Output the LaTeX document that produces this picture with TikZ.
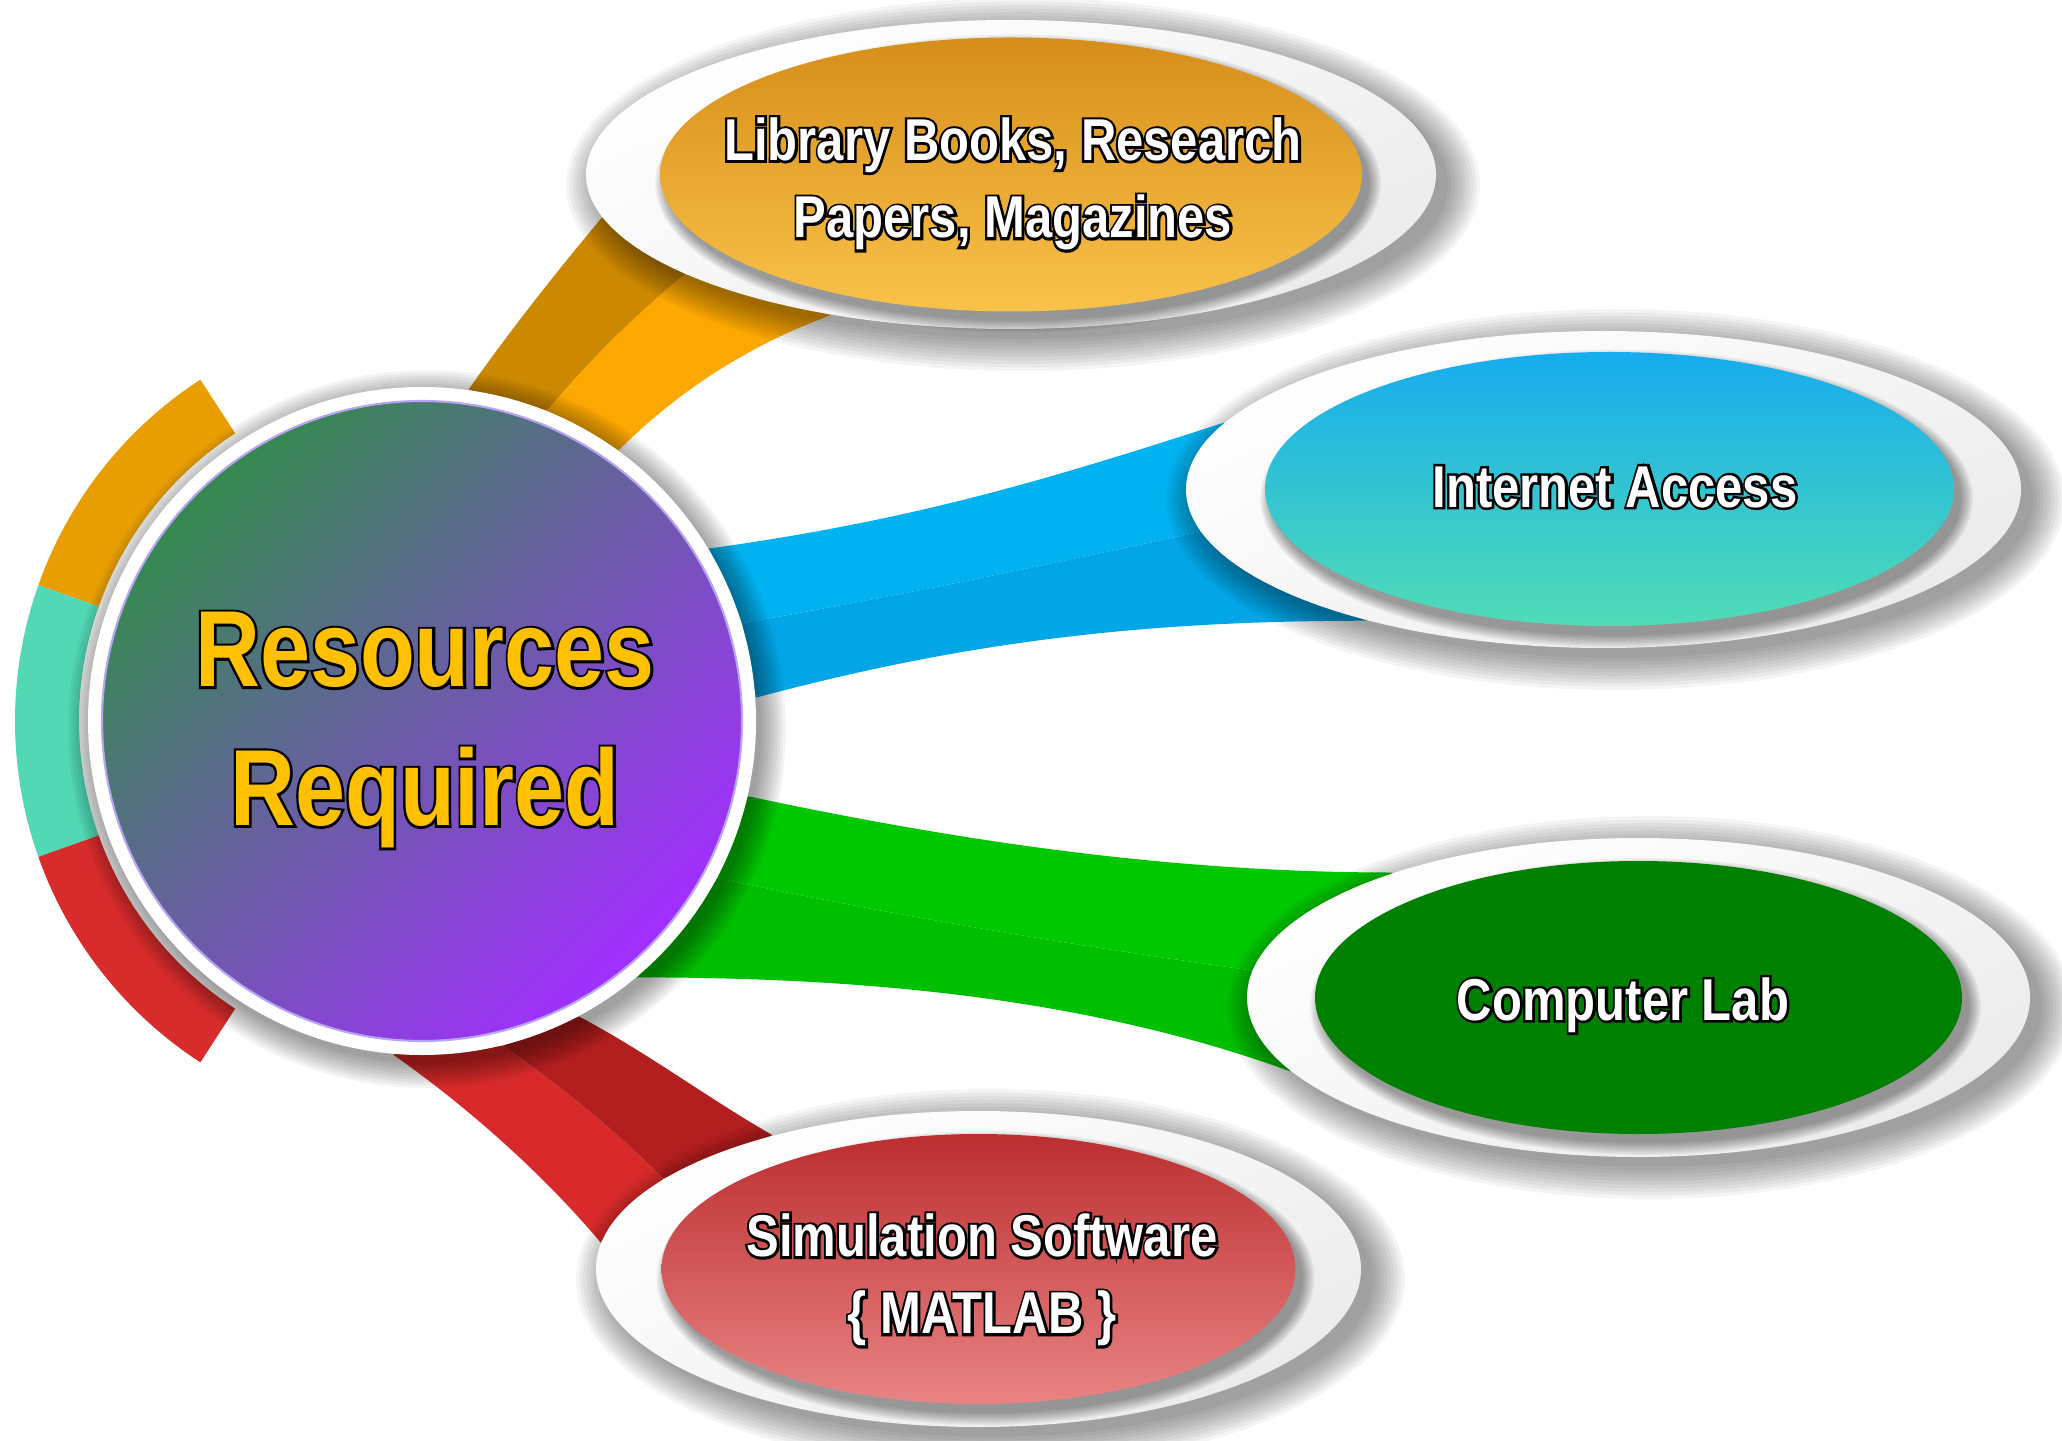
\documentclass[tikz,border=0pt]{standalone}
\usepackage{fontspec}
\usetikzlibrary{shapes.geometric,calc}

\newfontfamily\labelfont[FakeStretch=0.83]{Liberation Sans}
% outlined letters: a stroked black copy under the filled one
\newcommand\outl[1]{\rlap{\color{black}\special{pdf:literal direct 1 Tr 0 G 1.4 w}#1\special{pdf:literal direct 0 Tr}}#1}

% soft shadow: centre, x radius, y radius, spread
\newcommand\softshade[4]{%
  \foreach \k in {0,...,9}
    \fill[black, opacity=0.042] (#1) ellipse [x radius={#2+(#4)*(1-\k/9)}, y radius={#3+(#4)*(1-\k/9)}];}

\definecolor{hubgreen}{HTML}{358A50}
\definecolor{hubmid}{HTML}{7466C2}
\definecolor{hubviolet}{HTML}{A22EFF}
\definecolor{hubedge}{HTML}{B7A4F4}
\definecolor{arcorange}{HTML}{E89E00}
\definecolor{arcteal}{HTML}{52D8B4}
\definecolor{arcred}{HTML}{D82C2C}
\definecolor{orgdark}{HTML}{CC8800}
\definecolor{orglight}{HTML}{FCA800}
\definecolor{bluetop}{HTML}{00B2F0}
\definecolor{bluelow}{HTML}{02A6E6}
\definecolor{grntop}{HTML}{00C800}
\definecolor{grnlow}{HTML}{00BF00}
\definecolor{redlight}{HTML}{D82A2A}
\definecolor{reddark}{HTML}{B31F1F}
\definecolor{libA}{HTML}{D68E1A}
\definecolor{libB}{HTML}{F9C24A}
\definecolor{netA}{HTML}{16ACEE}
\definecolor{netB}{HTML}{50DCB6}
\definecolor{labfill}{HTML}{008000}
\definecolor{simA}{HTML}{BC2E30}
\definecolor{simB}{HTML}{E98484}
\definecolor{titlegold}{HTML}{FFC000}

\pgfdeclarelayer{bands}
\pgfdeclarelayer{haze}
\pgfsetlayers{bands,haze,main}

\tikzset{
  ring/.style={ellipse, inner sep=0pt, shade, top color=white, bottom color=gray!16, shading angle=25},
  core/.style={ellipse, inner sep=0pt, shade, shading angle=70},
  tag/.style={text=white, align=center, inner sep=0pt,
    font=\labelfont\bfseries\fontsize{16.8}{22}\selectfont},
  title/.style={text=titlegold, align=center, inner sep=0pt,
    font=\labelfont\bfseries\fontsize{30.8}{39.5}\selectfont},
}

\begin{document}
\begin{tikzpicture}
\useasboundingbox (0,0) rectangle (20.62,14.40);

% hub
\node[circle, inner sep=0pt, minimum size=6.68cm, fill=white] (hub) at (4.22,7.19) {};
\node[circle, inner sep=0pt, minimum size=6.40cm, shade, top color=hubgreen, middle color=hubmid,
  bottom color=hubviolet, shading angle=45, draw=hubedge, line width=0.6pt] (hubcore) at (hub) {};
\node[title] (hubtext) at (4.25,7.10) {\outl{Resources}\\\outl{Required}};

% outer rings
\node[ring, minimum width=8.50cm, minimum height=3.09cm] (lib) at (10.11,12.655) {};
\node[ring, minimum width=8.35cm, minimum height=3.17cm] (net) at (16.035,9.505) {};
\node[ring, minimum width=7.83cm, minimum height=3.19cm] (lab) at (16.385,4.425) {};
\node[ring, minimum width=7.65cm, minimum height=3.16cm] (sim) at (9.785,1.71) {};

% shadows of the inner ellipses on the rings
\softshade{$(lib)+(0.07,-0.09)$}{3.51}{1.37}{0.12}
\softshade{$(net)+(0.13,-0.09)$}{3.445}{1.37}{0.12}
\softshade{$(lab)+(0.07,-0.09)$}{3.235}{1.365}{0.12}
\softshade{$(sim)+(0.07,-0.09)$}{3.17}{1.35}{0.12}

% inner ellipses
\node[core, minimum width=7.02cm, minimum height=2.74cm, top color=libA, bottom color=libB] (libin) at (lib) {};
\node[core, minimum width=6.89cm, minimum height=2.74cm, top color=netA, bottom color=netB] (netin) at (16.095,9.51) {};
\node[ellipse, inner sep=0pt, minimum width=6.47cm, minimum height=2.73cm, fill=labfill] (labin) at (lab) {};
\node[core, minimum width=6.34cm, minimum height=2.70cm, top color=simA, bottom color=simB] (simin) at (sim) {};

% labels
\node[tag] (libtext) at (10.13,12.56) {\outl{Library Books, Research}\\\outl{Papers, Magazines}};
\node[tag] (nettext) at (16.15,9.53) {\outl{Internet Access}};
\node[tag] (labtext) at (16.23,4.35) {\outl{Computer Lab}};
\node[tag] (simtext) at (9.82,1.60) {\outl{Simulation Software}\\\outl{\{ MATLAB \}}};

\begin{pgfonlayer}{bands}
\fill[white] (0,0) rectangle (20.62,14.40);
% arcs round the hub
\foreach \from/\to/\col in {123/160.5/arcorange, 160.5/199.5/arcteal, 199.5/237/arcred}
  \fill[\col] ($(hub)+(\from:4.07)$) arc[start angle=\from, end angle=\to, radius=4.07]
    -- ($(hub)+(\to:3.43)$) arc[start angle=\to, end angle=\from, radius=3.43] -- cycle;
% orange
\fill[orgdark] (hub.82) .. controls +(55:0.7) and +(230:0.7) .. (lib.186)
  -- (lib.197) .. controls +(220:0.7) and +(50:0.7) .. (hub.68) -- cycle;
\fill[orglight] (hub.68) .. controls +(50:0.7) and +(220:0.7) .. (lib.197)
  -- (lib.218) .. controls +(200:0.9) and +(45:0.8) .. (hub.54) -- cycle;
% blue
\fill[bluetop] (hub.31) .. controls +(8:2) and +(198:2) .. (net.170)
  -- (net.186) .. controls +(192:1.8) and +(10:1.8) .. (hub.17) -- cycle;
\fill[bluelow] (hub.17) .. controls +(10:1.8) and +(192:1.8) .. (net.186)
  -- (net.209) .. controls +(180:2.2) and +(15:2.2) .. (hub.4) -- cycle;
% green
\fill[grntop] (hub.347) .. controls +(-12:2.2) and +(180:2.2) .. (lab.153)
  -- (lab.176) .. controls +(172:1.8) and +(-12:1.8) .. (hub.332) -- cycle;
\fill[grnlow] (hub.332) .. controls +(-12:1.8) and +(172:1.8) .. (lab.176)
  -- (lab.192) .. controls +(160:2.2) and +(0:2.2) .. (hub.310) -- cycle;
% red
\fill[redlight] (hub.265) .. controls +(-35:0.9) and +(130:0.9) .. (sim.176)
  -- (sim.164) .. controls +(135:0.7) and +(-35:0.7) .. (hub.284) -- cycle;
\fill[reddark] (hub.284) .. controls +(-35:0.7) and +(135:0.7) .. (sim.164)
  -- (sim.147) .. controls +(150:0.8) and +(-28:0.8) .. (hub.298) -- cycle;
\end{pgfonlayer}

\begin{pgfonlayer}{haze}
\softshade{$(hub)+(0.05,-0.08)$}{3.34}{3.34}{0.25}
\softshade{$(lib)+(0.12,-0.10)$}{4.25}{1.545}{0.32}
\softshade{$(net)+(0.12,-0.10)$}{4.175}{1.585}{0.32}
\softshade{$(lab)+(0.12,-0.10)$}{3.915}{1.595}{0.32}
\softshade{$(sim)+(0.12,-0.10)$}{3.825}{1.58}{0.32}
\end{pgfonlayer}
\end{tikzpicture}
\end{document}
